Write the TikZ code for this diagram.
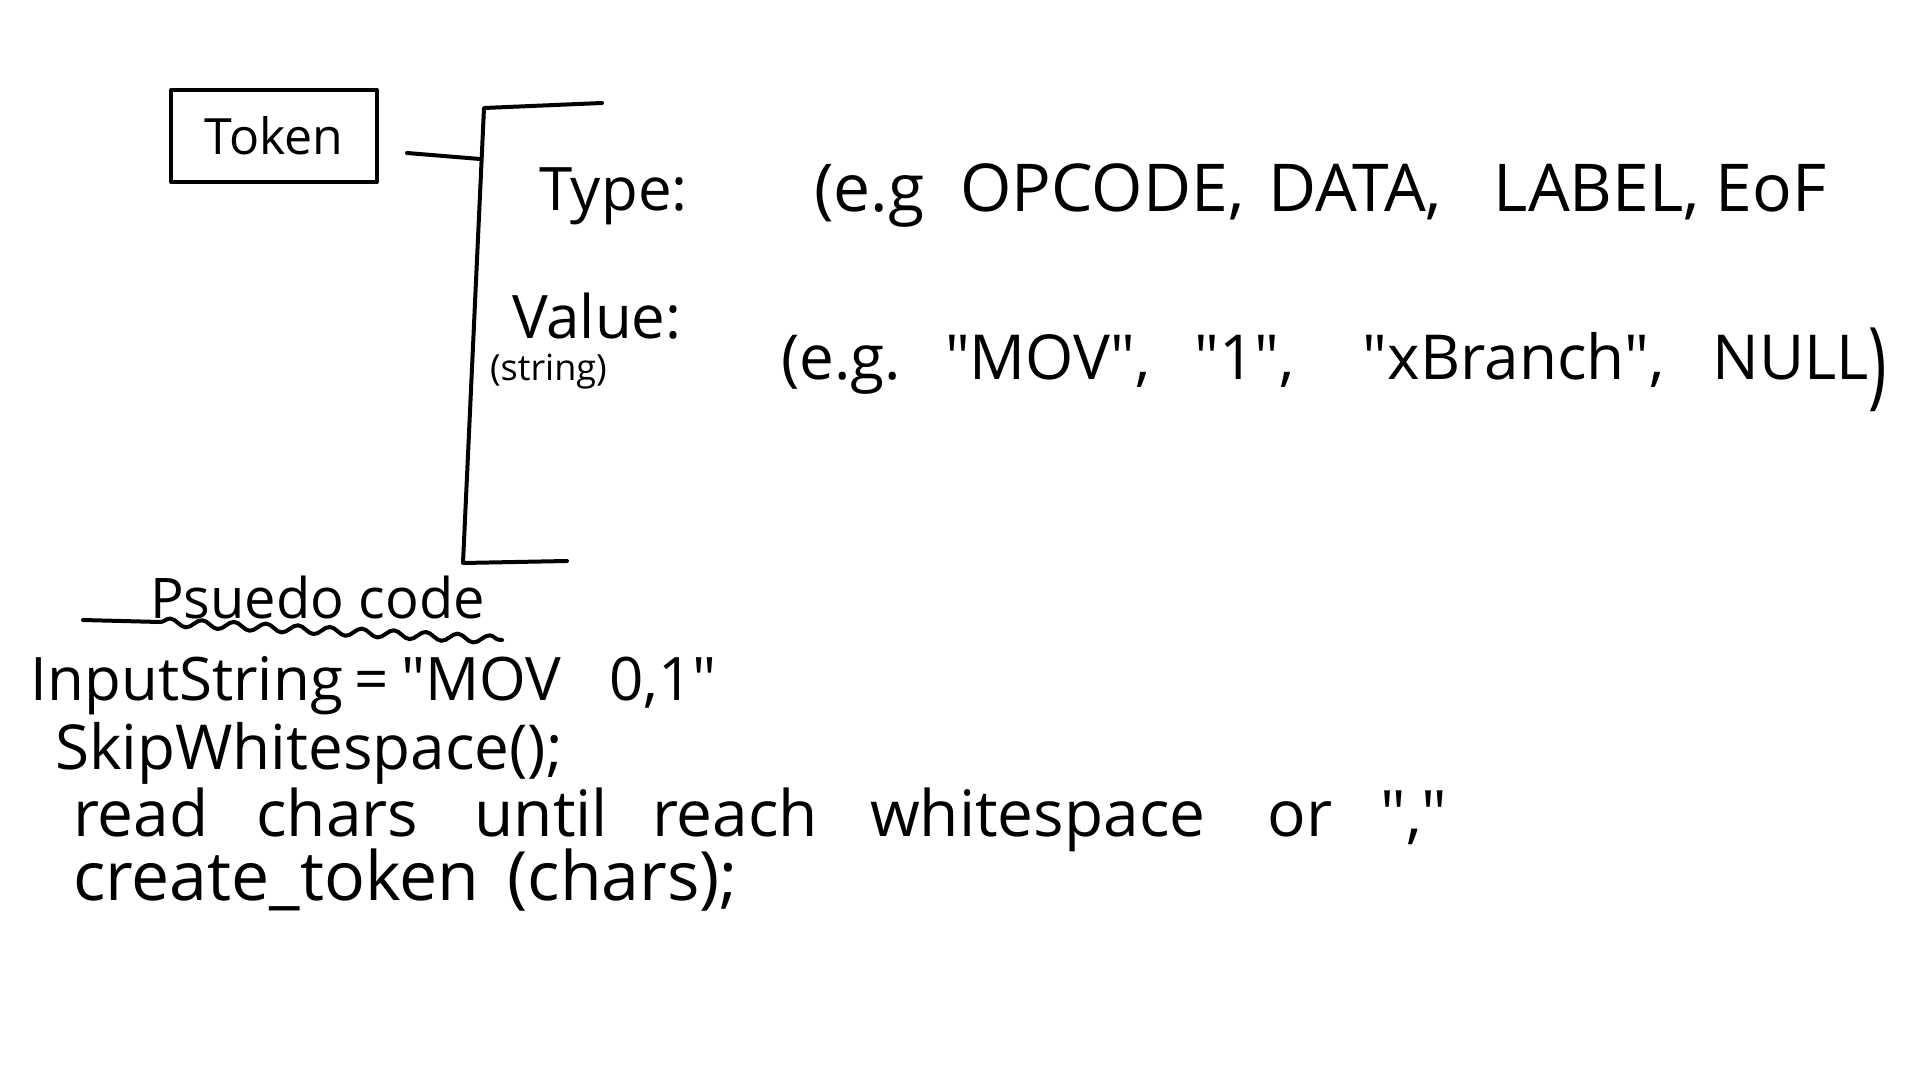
\documentclass[tikz,border=0pt]{standalone}
\usepackage{fontspec}
\setmainfont{Open Sans}
\usetikzlibrary{decorations.pathmorphing}
\newcommand{\dq}{\XeTeXglyph\the\XeTeXcharglyph"22\relax}
\newcommand{\gap}[1]{\hspace{#1pt}}
\tikzset{
  ink/.style={line width=2pt, line cap=round, line join=round, black},
  hand/.style={inner sep=0pt, outer sep=0pt, anchor=west, font=\fontsize{30}{36}\selectfont},
  small/.style={inner sep=0pt, outer sep=0pt, anchor=west, font=\fontsize{18}{22}\selectfont},
  boxed/.style={draw, ink, minimum width=103pt, minimum height=46pt, inner sep=0pt, font=\fontsize{25}{30}\selectfont}
}
\begin{document}
\begin{tikzpicture}[x=0.5pt, y=-0.5pt]
\path[use as bounding box] (0,0) rectangle (1920,1080);
% Token box
\node[boxed] (token) at (274,136) {Token};
% bracket
\coordinate (c1) at (407,153);
\coordinate (brk) at (480,159);
\coordinate (bt1) at (602,103);
\coordinate (bt) at (484,108);
\coordinate (bb) at (463,563);
\coordinate (bb1) at (567,561);
\draw[ink] (c1) -- (brk);
\draw[ink] (bt1) -- (bt) -- (bb) -- (bb1);
% fields
\node[hand] (type) at (539,196) {Type:};
\node[hand, font=\fontsize{33}{40}\selectfont] (typeex) at (814,196) {(e.g\gap{18}OPCODE,\gap{12}DATA,\gap{26}LABEL,\gap{8}EoF};
\node[hand] (value) at (512,316) {Value:};
\node[small] (string) at (490,372) {(string)};
\node[hand, font=\fontsize{31}{38}\selectfont] (valex) at (781,370) {(e.g.\gap{22}\dq MOV\dq,\gap{22}\dq 1\dq,\gap{34}\dq xBranch\dq,\gap{24}NULL\raisebox{-0.28em}{\scalebox{1}[1.55]{)}}};
% pseudo code
\node[hand, font=\fontsize{28}{34}\selectfont] (pseudo) at (150,597) {Psuedo code};
\coordinate (u1) at (83,620);
\coordinate (u1b) at (160,622);
\coordinate (u2) at (502,640);
\draw[ink] (u1) -- (u1b);
\draw[ink, decorate, decoration={snake, amplitude=2pt, segment length=16pt}] (u1b) -- (u2);
\node[hand] (l1) at (31,686) {InputString\gap{6}=\gap{6}\dq MOV\gap{24}0,1\dq};
\node[hand, font=\fontsize{31}{37}\selectfont] (l2) at (55,753) {SkipWhitespace();};
\node[hand, font=\fontsize{32}{38}\selectfont] (l3) at (73,820) {read\gap{24}chars\gap{28}until\gap{22}reach\gap{26}whitespace\gap{31}or\gap{24}\dq,\dq};
\node[hand, font=\fontsize{34}{40}\selectfont] (l4) at (73,880) {create\_token\gap{14}(chars);};
\end{tikzpicture}
\end{document}
